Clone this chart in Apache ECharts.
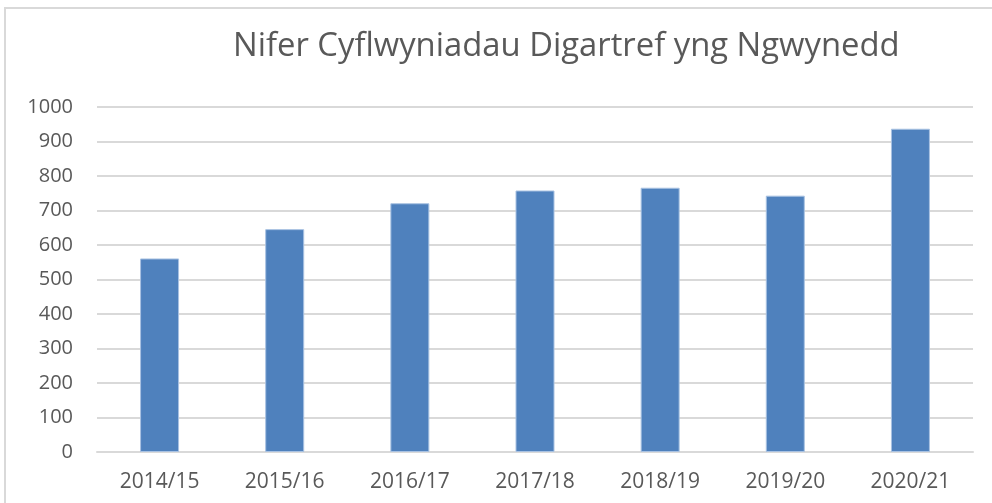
<!DOCTYPE html>
<html>
<head>
<meta charset="utf-8">
<script src="https://cdn.jsdelivr.net/npm/echarts@6/dist/echarts.min.js"></script>
<style>
  html, body { margin: 0; padding: 0; background: #fff; }
  #main { width: 992px; height: 503px; }
</style>
</head>
<body>
<div id="main"></div>
<script>
  // data
  var years = ['2014/15', '2015/16', '2016/17', '2017/18', '2018/19', '2019/20', '2020/21'];
  var presentations = [561, 646, 721, 758, 766, 743, 937];
  var yTicks = { min: 0, max: 1000, interval: 100 };

  var myChart = echarts.init(document.getElementById('main'));
  var textCol = '#595959';
  var font = 'Open Sans';

  var option = {
    animation: false,
    title: {
      text: 'Nifer Cyflwyniadau Digartref yng Ngwynedd',
      left: 228,
      top: 25,
      textStyle: { fontFamily: font, fontSize: 32.8, fontWeight: 'normal', color: textCol }
    },
    graphic: [{
      type: 'rect',
      shape: { x: 5, y: 8, width: 1000, height: 520 },
      style: { fill: 'none', stroke: '#d9d9d9', lineWidth: 2 },
      silent: true
    }],
    grid: { left: 97, right: 19, top: 107, bottom: 51, containLabel: false },
    xAxis: {
      type: 'category',
      data: years,
      axisLine: { lineStyle: { color: '#d9d9d9', width: 2 } },
      axisTick: { show: false },
      axisLabel: { color: textCol, fontFamily: font, fontSize: 21, margin: 20 }
    },
    yAxis: {
      type: 'value',
      min: yTicks.min,
      max: yTicks.max,
      interval: yTicks.interval,
      axisLine: { show: false },
      axisTick: { show: false },
      splitLine: { lineStyle: { color: '#d9d9d9', width: 2 } },
      axisLabel: {
        color: textCol, fontFamily: font, fontSize: 20, margin: 24,
        formatter: function (v) { return String(v); }
      }
    },
    series: [{
      type: 'bar',
      data: presentations,
      barWidth: 39,
      itemStyle: { color: '#4f81bd', borderColor: '#a9c2e2', borderWidth: 1 }
    }]
  };
  myChart.setOption(option);
</script>
</body>
</html>
